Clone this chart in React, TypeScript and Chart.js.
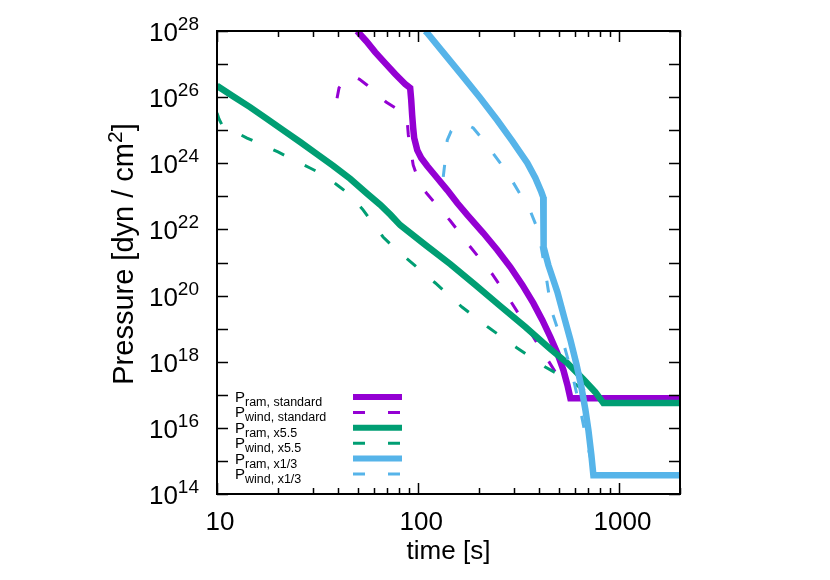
import React, { useEffect, useRef } from 'react';
import { Chart, registerables } from 'chart.js';

Chart.register(...registerables);

// ---- data (time [s], pressure [dyn/cm^2]) ----
const tRamStd = [49.7, 55.1, 61.1, 68.5, 76.8, 86.1, 91.2, 92.3, 93.3, 94.4, 95.5, 98.9, 103.5, 110.9, 124.3, 139.4, 156.3, 175.3, 210.6, 247.2, 286.9, 329.2, 373.4, 414, 453.6, 491.5, 526.6, 551.2, 570.5, 2000];
const pRamStd = [1.0e28, 5.0e27, 2.3e27, 1.07e27, 5.0e26, 2.5e26, 1.9e26, 8.2e25, 2.9e25, 1.17e25, 5.8e24, 2.5e24, 1.45e24, 8.3e23, 3.6e23, 1.55e23, 6.3e22, 2.75e22, 7.8e21, 2.4e21, 7.3e20, 2.1e20, 5.9e19, 1.8e19, 5.6e18, 1.8e18, 5.6e17, 2.0e17, 7.9e16, 7.9e16];

const tWindStd = [39.5, 40.4, 43.3, 46.9, 50.9, 55.8, 61.1, 69.2, 81.4, 88.1, 89.3, 94.4, 102.3, 110.9, 144.6, 181.3, 233.0, 289.6, 360, 444, 538, 582, 2000];
const pWindStd = [9.3e25, 1.9e26, 3.3e26, 4.4e26, 3.5e26, 2.3e26, 1.45e26, 7.1e25, 3.8e25, 2.0e25, 7.2e24, 8.9e23, 2.2e23, 1.17e23, 1.8e22, 3.0e21, 4.5e20, 6.4e19, 7.9e18, 1.05e18, 1.6e17, 7.9e16, 7.9e16];

const tRam55 = [10, 12.01, 14.59, 17.72, 21.3, 25.9, 31.4, 37.7, 45.9, 55.8, 64.9, 72.9, 81.4, 108.5, 144.6, 192.5, 256, 341, 454, 551, 660, 759, 832, 2000];
const pRam55 = [2.2e26, 1.07e26, 5.0e25, 2.2e25, 1.0e25, 4.4e24, 1.9e24, 8.5e23, 3.4e23, 1.2e23, 5.5e22, 2.75e22, 1.35e22, 3.4e21, 8.9e20, 2.1e20, 4.8e19, 1.12e19, 2.4e18, 9.1e17, 3.0e17, 1.2e17, 5.6e16, 5.6e16];

const tWind55 = [10, 10.23, 10.59, 12.29, 14.1, 16.9, 20.1, 24.1, 29.0, 34.5, 40.0, 45.9, 53.2, 59.8, 66.9, 76.9, 89.3, 121.6, 165, 222, 310, 428, 591, 716, 832, 2000];
const pWind55 = [3.3e25, 2.2e25, 1.45e25, 8.9e24, 5.8e24, 3.6e24, 2.2e24, 1.26e24, 7.2e23, 4.2e23, 2.1e23, 1.1e23, 3.9e22, 1.45e22, 5.9e21, 2.6e21, 1.2e21, 2.4e20, 4.5e19, 1.12e19, 2.6e18, 6.9e17, 2.3e17, 1.0e17, 5.6e16, 5.6e16];

const tRam13 = [108.3, 110.9, 136.2, 167.4, 203.4, 247.2, 293.6, 348.5, 382.1, 409.3, 418, 420, 443.5, 491.5, 532.6, 570.5, 611.1, 647.2, 677.5, 701.3, 725.5, 742.3, 2000];
const pRam13 = [1.0e28, 8.7e27, 1.9e27, 4.1e26, 9.4e25, 2.0e25, 4.7e24, 1.02e24, 3.6e23, 1.35e23, 9.5e22, 2.95e21, 8.3e20, 1.28e20, 2.1e19, 4.6e18, 8.5e17, 1.7e17, 3.5e16, 8.5e15, 1.5e15, 3.7e14, 3.7e14];

const tWind13 = [133.2, 136.2, 139.4, 145.9, 158.1, 171.3, 187.7, 210.6, 233.0, 261.8, 293.6, 325.4, 360.7, 386.5, 404.6, 418.8, 433.5, 458.9, 491.5, 526.6, 583.9, 639.8, 685.3, 725.5, 742.3, 2000];
const pWind13 = [3.9e23, 1.26e24, 5.0e24, 9.5e24, 1.45e25, 1.55e25, 1.17e25, 5.0e24, 2.2e24, 8.3e23, 2.9e23, 1.02e23, 3.6e22, 1.26e22, 4.2e21, 1.2e21, 3.4e20, 3.6e19, 1.05e19, 3.7e18, 4.0e17, 3.5e16, 4.3e15, 9.3e14, 3.7e14, 3.7e14];

const legendSubs = ['ram, standard', 'wind, standard', 'ram, x5.5', 'wind, x5.5', 'ram, x1/3', 'wind, x1/3'];
const yTickExps = [14, 16, 18, 20, 22, 24, 26, 28];
const yDecades = [14, 15, 16, 17, 18, 19, 20, 21, 22, 23, 24, 25, 26, 27, 28];
const xMajor = [10, 100, 1000];
const xMinor = [20, 30, 40, 50, 60, 70, 80, 90, 200, 300, 400, 500, 600, 700, 800, 900, 2000];

const PURPLE = '#9400d3';
const GREEN = '#009e73';
const BLUE = '#56b4e9';
const FONT = '"Liberation Sans", Arial, Helvetica, sans-serif';
const DASH = [12, 23];
const SOLID_W = 6.5;
const DASH_W = 3;

const series = [
  { t: tRamStd, p: pRamStd, color: PURPLE, dashed: false },
  { t: tWindStd, p: pWindStd, color: PURPLE, dashed: true },
  { t: tRam55, p: pRam55, color: GREEN, dashed: false },
  { t: tWind55, p: pWind55, color: GREEN, dashed: true },
  { t: tRam13, p: pRam13, color: BLUE, dashed: false },
  { t: tWind13, p: pWind13, color: BLUE, dashed: true },
];

const decorPlugin = {
  id: 'decor',
  afterDatasetsDraw(chart: any) {
    const ctx = chart.ctx as CanvasRenderingContext2D;
    const a = chart.chartArea;
    const xs = chart.scales.x;
    const ys = chart.scales.y;
    ctx.save();
    ctx.strokeStyle = '#000';
    ctx.fillStyle = '#000';
    ctx.lineWidth = 1.5;
    ctx.setLineDash([]);

    // ticks (inward, mirrored)
    ctx.beginPath();
    yDecades.forEach((e) => {
      const y = Math.round(ys.getPixelForValue(Math.pow(10, e))) + 0.5;
      ctx.moveTo(a.left, y); ctx.lineTo(a.left + 11, y);
      ctx.moveTo(a.right, y); ctx.lineTo(a.right - 11, y);
    });
    xMajor.forEach((v) => {
      const x = Math.round(xs.getPixelForValue(v)) + 0.5;
      ctx.moveTo(x, a.bottom); ctx.lineTo(x, a.bottom - 11);
      ctx.moveTo(x, a.top); ctx.lineTo(x, a.top + 11);
    });
    xMinor.forEach((v) => {
      const x = Math.round(xs.getPixelForValue(v)) + 0.5;
      ctx.moveTo(x, a.bottom); ctx.lineTo(x, a.bottom - 6);
      ctx.moveTo(x, a.top); ctx.lineTo(x, a.top + 6);
    });
    ctx.stroke();

    // frame
    ctx.lineWidth = 2;
    ctx.strokeRect(a.left, a.top, a.right - a.left, a.bottom - a.top);

    // y tick labels 10^n
    yTickExps.forEach((e) => {
      const y = ys.getPixelForValue(Math.pow(10, e));
      ctx.font = `19px ${FONT}`;
      const ws = ctx.measureText(String(e)).width;
      ctx.font = `26px ${FONT}`;
      const wb = ctx.measureText('10').width;
      const R = 199;
      ctx.textAlign = 'left';
      ctx.textBaseline = 'alphabetic';
      ctx.fillText('10', R - ws - wb, y + 10);
      ctx.font = `19px ${FONT}`;
      ctx.fillText(String(e), R - ws, y - 1);
    });

    // x tick labels
    ctx.font = `26px ${FONT}`;
    ctx.textAlign = 'center';
    xMajor.forEach((v) => {
      const x = xs.getPixelForValue(v);
      ctx.fillText(String(v), x + 3, 530);
    });

    // x title
    ctx.fillText('time [s]', (a.left + a.right) / 2, 559);

    // y title (rotated)
    ctx.save();
    ctx.translate(133, 254);
    ctx.rotate(-Math.PI / 2);
    ctx.textAlign = 'left';
    ctx.font = `29px ${FONT}`;
    const main = 'Pressure [dyn / cm';
    const wm = ctx.measureText(main).width;
    const wbr = ctx.measureText(']').width;
    ctx.font = `21px ${FONT}`;
    const w2 = ctx.measureText('2').width;
    const total = wm + w2 + wbr;
    const x0 = -total / 2;
    ctx.font = `29px ${FONT}`;
    ctx.fillText(main, x0, 0);
    ctx.font = `21px ${FONT}`;
    ctx.fillText('2', x0 + wm, -11);
    ctx.font = `29px ${FONT}`;
    ctx.fillText(']', x0 + wm + w2, 0);
    ctx.restore();

    // legend
    series.forEach((s, i) => {
      const y = 397 + i * 15.4;
      ctx.textAlign = 'left';
      ctx.font = `15px ${FONT}`;
      ctx.fillStyle = '#000';
      ctx.fillText('P', 235, y + 5);
      const wp = ctx.measureText('P').width;
      ctx.font = `12.5px ${FONT}`;
      ctx.fillText(legendSubs[i], 235 + wp, y + 9);
      ctx.beginPath();
      ctx.strokeStyle = s.color;
      ctx.lineWidth = s.dashed ? DASH_W : 6;
      ctx.setLineDash(s.dashed ? DASH : []);
      ctx.moveTo(353, y);
      ctx.lineTo(402, y);
      ctx.stroke();
    });
    ctx.restore();
  },
};

export default function App() {
  const ref = useRef<HTMLCanvasElement>(null);
  useEffect(() => {
    if (!ref.current) return;
    const chart = new Chart(ref.current, {
      type: 'line',
      data: {
        datasets: series.map((s, i) => ({
          data: s.t.map((t, j) => ({ x: t, y: s.p[j] })),
          borderColor: s.color,
          backgroundColor: s.color,
          borderWidth: s.dashed ? DASH_W : SOLID_W,
          borderDash: s.dashed ? DASH : [],
          pointRadius: 0,
          tension: 0,
          fill: false,
          clip: 0,
          order: series.length - i,
        })),
      },
      options: {
        animation: false,
        responsive: false,
        maintainAspectRatio: false,
        events: [],
        layout: { padding: { left: 217, right: 150, top: 31, bottom: 86 } },
        plugins: { legend: { display: false }, tooltip: { enabled: false } },
        scales: {
          x: { type: 'logarithmic', min: 10, max: 2000, display: false },
          y: { type: 'logarithmic', min: 1e14, max: 1e28, display: false },
        },
      },
      plugins: [decorPlugin],
    } as any);
    return () => chart.destroy();
  }, []);
  return (
    <div style={{ position: 'absolute', left: 0, top: 0, width: 830, height: 580, background: '#fff' }}>
      <canvas ref={ref} width={830} height={580} style={{ width: 830, height: 580 }} />
    </div>
  );
}
